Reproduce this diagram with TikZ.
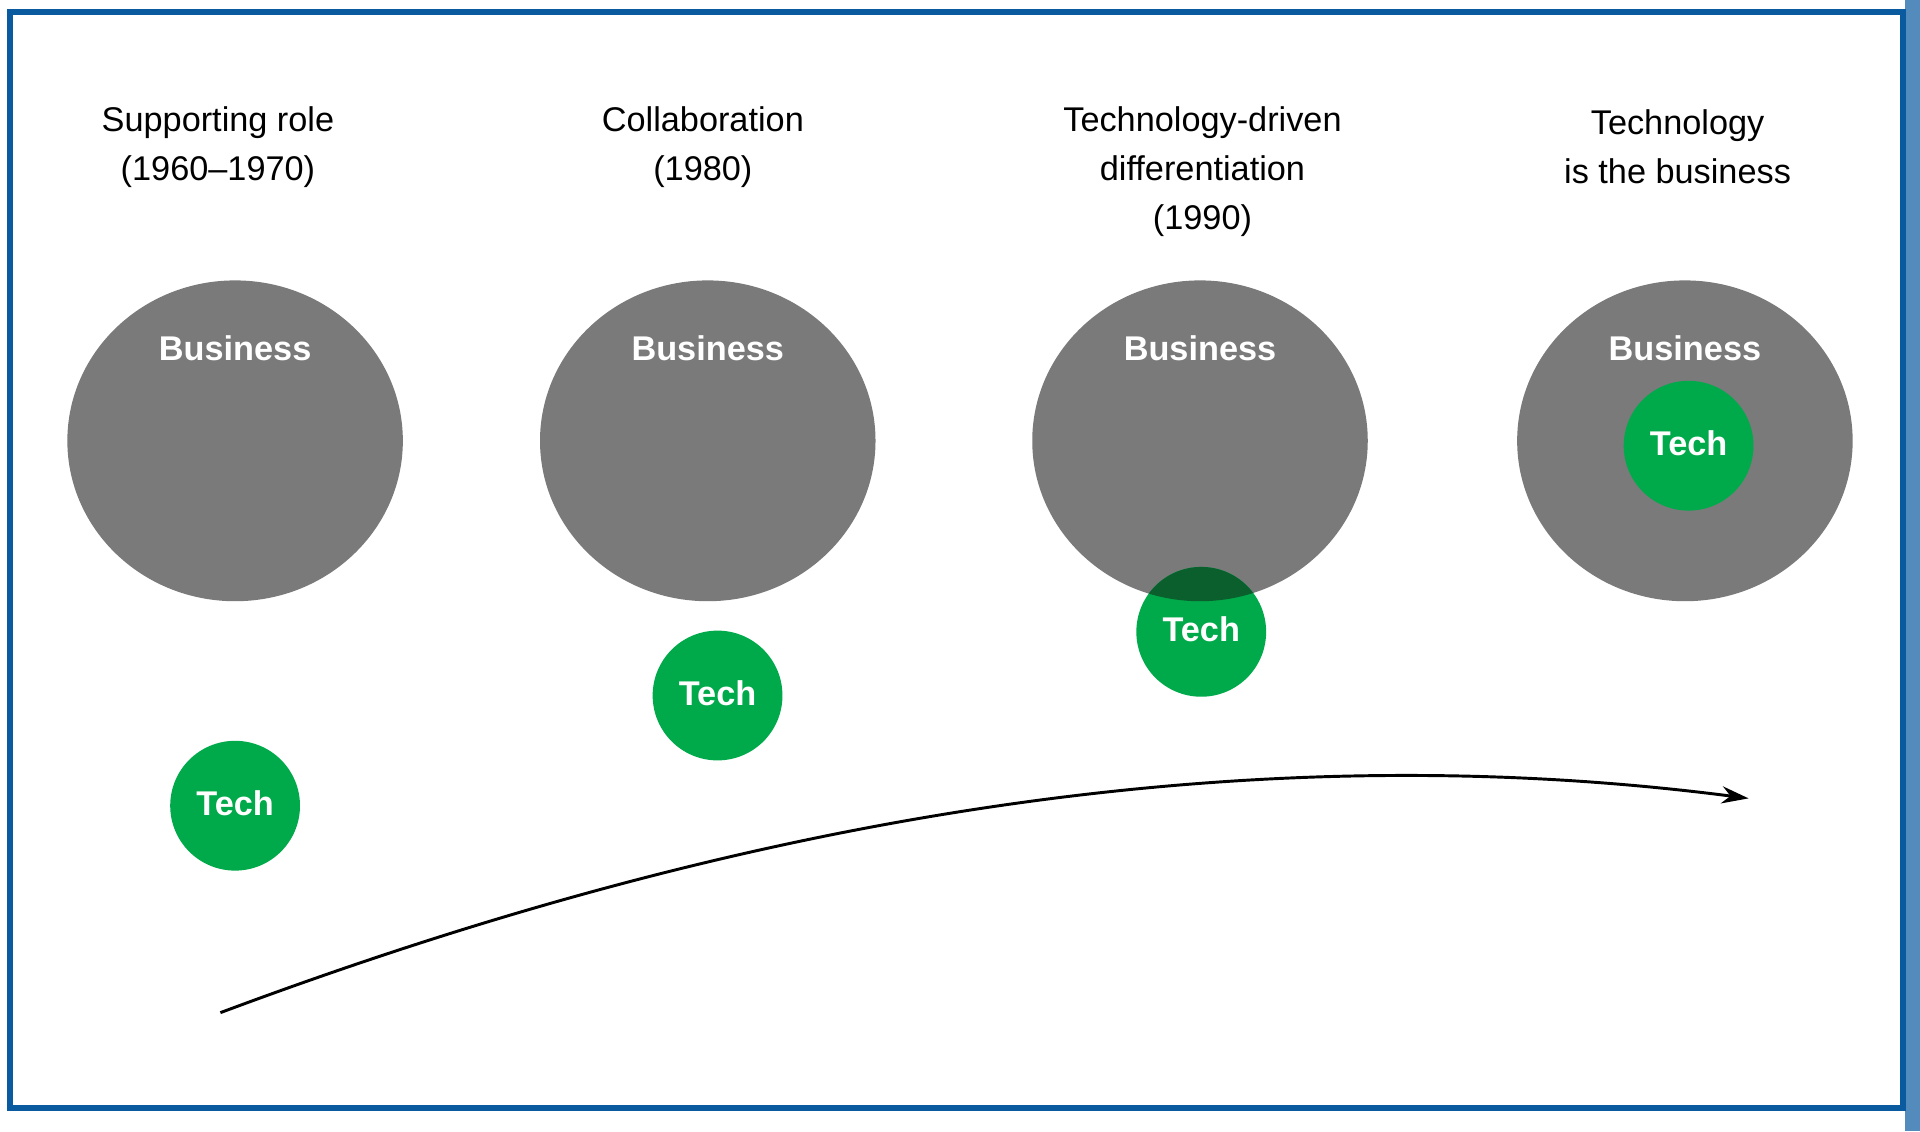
\documentclass[tikz,border=0pt]{standalone}
\usepackage{fontspec}
\setmainfont{Liberation Sans}
\usetikzlibrary{arrows.meta}
\definecolor{frameblue}{RGB}{10,90,160}
\definecolor{bizgray}{RGB}{122,122,122}
\definecolor{techgreen}{RGB}{0,170,75}
\definecolor{darkgreen}{RGB}{10,95,45}
\begin{document}
\begin{tikzpicture}[x=0.5pt,y=-0.5pt,
  title/.style={align=center,font=\fontsize{14}{20}\selectfont,text=black},
  biz/.style={text=white,font=\bfseries\fontsize{14}{16}\selectfont},
  techlbl/.style={text=white,font=\bfseries\fontsize{14}{16}\selectfont}]
\useasboundingbox (0,0) rectangle (1568,924);
\fill[white] (0,0) rectangle (1568,924);
\fill[frameblue!70] (1556,0) rectangle (1568,924);
\draw[frameblue,line width=2.5pt] (8,10) rectangle (1554,905);
% titles
\node[title] (t1) at (178,120) {Supporting role\\(1960–1970)};
\node[title] (t2) at (574,120) {Collaboration\\(1980)};
\node[title] (t3) at (982,140) {Technology-driven\\differentiation\\(1990)};
\node[title] (t4) at (1370,120) {Technology\\is the business};
% business ellipses
\foreach \i/\x in {1/192,2/578,3/980,4/1376}{
  \fill[bizgray] (\x,360) ellipse [x radius=137, y radius=131];
  \node[biz] (b\i) at (\x,284) {Business};
}
% tech circles
\foreach \i/\x/\y in {1/192/658,2/586/568,3/981/516,4/1379/364}{
  \fill[techgreen] (\x,\y) circle (53);
}
\begin{scope}
  \clip (980,360) ellipse [x radius=137, y radius=131];
  \fill[darkgreen] (981,516) circle (53);
\end{scope}
\foreach \i/\x/\y in {1/192/658,2/586/568,3/981/516,4/1379/364}{
  \node[techlbl] (tc\i) at (\x,\y-2) {Tech};
}
\coordinate (a0) at (180,827);
\coordinate (a1) at (1428,652);
\draw[line width=1.2pt,-{Stealth[length=11pt,width=7pt]}] (a0) .. controls (520,700) and (950,590) .. (a1);
\end{tikzpicture}
\end{document}
